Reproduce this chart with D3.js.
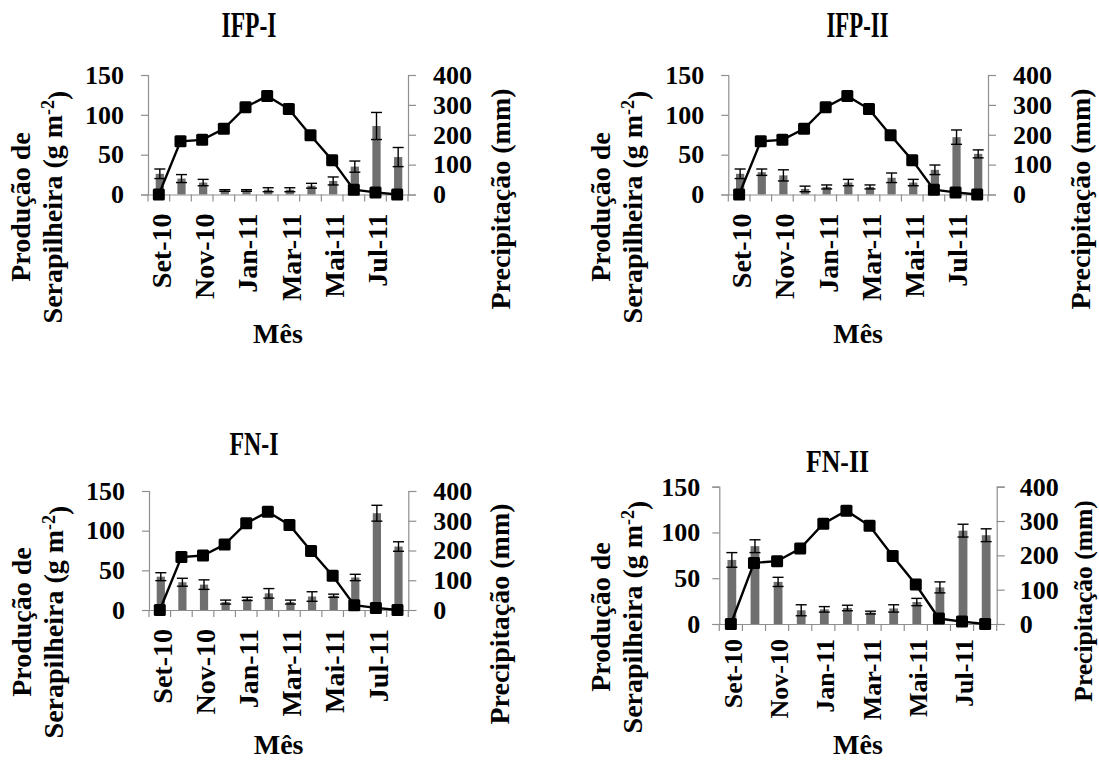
<!DOCTYPE html>
<html>
<head>
<meta charset="utf-8">
<script src="https://cdn.jsdelivr.net/npm/d3@7"></script>
<style>
  html, body { margin: 0; padding: 0; background: #fff; }
  svg { display: block; }
  text { font-family: "Liberation Serif", "Times New Roman", serif; font-weight: bold; fill: #000; }
</style>
</head>
<body>
<svg id="chart" width="1099" height="762"></svg>
<script>
// Months of the sampling year (Sep 2010 - Aug 2011)
const months = ["Set-10","Out-10","Nov-10","Dez-10","Jan-11","Fev-11","Mar-11","Abr-11","Mai-11","Jun-11","Jul-11","Ago-11"];
const monthTicks = ["Set-10","Nov-10","Jan-11","Mar-11","Mai-11","Jul-11"];
const litterTicks = [0, 50, 100, 150];
const rainTicks = [0, 100, 200, 300, 400];

// Monthly precipitation (mm), shared by every site
const rainfall = [0, 178, 183, 220, 292, 330, 286, 198, 115, 16, 7, 0];

// Litterfall (g m-2) and its error, per site
const litterIFP1 = [26, 20, 15, 5, 5, 6, 6, 11, 17, 35, 86, 47];
const errIFP1    = [6, 5, 4, 1, 1, 2.5, 2.5, 3, 5, 7, 17, 12];
const litterIFP2 = [26, 28, 24, 7, 9.5, 15, 9.5, 21, 15, 31, 72, 51];
const errIFP2    = [6, 4, 7, 3.5, 2.5, 4, 2.5, 6, 4, 6, 9, 5];
const litterFN1  = [42, 35, 32, 10, 14, 21, 10, 17, 18, 41, 122, 80];
const errFN1     = [5, 5, 6, 2.5, 2, 6, 2.5, 6, 2, 4, 10, 6];
const litterFN2  = [70, 85, 46, 15, 16, 17.5, 12.5, 17, 24, 40, 102, 97];
const errFN2     = [8, 7, 5, 6, 3, 3, 1.5, 4, 4, 6, 7, 7];

const titles = ["IFP-I", "IFP-II", "FN-I", "FN-II"];

// Panel placement on the page
const panels = [
  { name: titles[0], litter: litterIFP1, err: errIFP1,
    x0: 148, x1: 408, yTop: 75, yBot: 194.5, padL: 17, padR: 17,
    yTitleX: [30, 62], yTitleCY: 207, rTitleX: 509.5, rTitleCY: 199, rFs: 28,
    tickGap: 19, tickFs: 28, mesY: 343,
    title: { cx: 249, y: 37, w: 55, fs: 35 } },
  { name: titles[1], litter: litterIFP2, err: errIFP2,
    x0: 728.3, x1: 988, yTop: 75, yBot: 194.5, padL: 17, padR: 17,
    yTitleX: [610, 642], yTitleCY: 207, rTitleX: 1089.5, rTitleCY: 199, rFs: 28,
    tickGap: 19, tickFs: 28, mesY: 343,
    title: { cx: 857.5, y: 37, w: 62, fs: 35 } },
  { name: titles[2], litter: litterFN1, err: errFN1,
    x0: 149, x1: 408.3, yTop: 491, yBot: 610, padL: 17, padR: 17,
    yTitleX: [31, 63], yTitleCY: 622, rTitleX: 509, rTitleCY: 614, rFs: 28,
    tickGap: 19, tickFs: 28, mesY: 754,
    title: { cx: 254, y: 455, w: 49, fs: 34 } },
  { name: titles[3], litter: litterFN2, err: errFN2,
    x0: 719.3, x1: 996.7, yTop: 486.7, yBot: 624, padL: 12, padR: 15,
    yTitleX: [610, 642], yTitleCY: 617, rTitleX: 1092, rTitleCY: 601, rFs: 25.5,
    tickGap: 15, tickFs: 26, mesY: 754,
    title: { cx: 837.5, y: 472, w: 63, fs: 31 } }
];

const svg = d3.select("#chart");
const axisGrey = "#8f8f8f";
const barGrey = "#6f6f6f";

panels.forEach(p => {
  const g = svg.append("g");

  const x = d3.scaleBand().domain(months).range([p.x0, p.x1]).padding(0);
  const step = x.step();
  const yL = d3.scaleLinear().domain([0, 150]).range([p.yBot, p.yTop]);
  const yR = d3.scaleLinear().domain([0, 400]).range([p.yBot, p.yTop]);
  const cx = m => x(m) + step / 2;

  // Litterfall bars
  const barW = step * 0.38;
  g.append("g").selectAll("rect").data(months).join("rect")
    .attr("x", m => cx(m) - barW / 2 + 1)
    .attr("width", barW)
    .attr("y", (m, i) => yL(p.litter[i]))
    .attr("height", (m, i) => yL(0) - yL(p.litter[i]))
    .attr("fill", barGrey);

  // Error bars
  const capW = 5.5;
  const eb = g.append("g").attr("stroke", "#000").attr("stroke-width", 1.4);
  months.forEach((m, i) => {
    const xc = cx(m) + 1;
    const hi = yL(p.litter[i] + p.err[i]);
    const lo = yL(Math.max(0, p.litter[i] - p.err[i]));
    eb.append("line").attr("x1", xc).attr("x2", xc).attr("y1", hi).attr("y2", lo);
    eb.append("line").attr("x1", xc - capW).attr("x2", xc + capW).attr("y1", hi).attr("y2", hi);
    eb.append("line").attr("x1", xc - capW).attr("x2", xc + capW).attr("y1", lo).attr("y2", lo);
  });

  // Left axis (litterfall)
  const axL = g.append("g").attr("transform", `translate(${p.x0},0)`)
    .call(d3.axisLeft(yL).tickValues(litterTicks).tickSize(7).tickPadding(p.padL));
  // Right axis (precipitation)
  const axR = g.append("g").attr("transform", `translate(${p.x1},0)`)
    .call(d3.axisRight(yR).tickValues(rainTicks).tickSize(8).tickPadding(p.padR));
  [axL, axR].forEach(a => {
    a.select(".domain").attr("stroke", axisGrey).attr("stroke-width", 1.2);
    a.selectAll(".tick line").attr("stroke", axisGrey).attr("stroke-width", 1.2);
    a.selectAll(".tick text").attr("font-size", 26)
      .attr("font-family", "Liberation Serif, Times New Roman, serif")
      .attr("font-weight", "bold").attr("fill", "#000");
  });

  // Bottom axis with ticks at month boundaries
  const axB = g.append("g").attr("transform", `translate(0,${p.yBot})`)
    .call(d3.axisBottom(x).tickSize(0).tickFormat(""));
  axB.select(".domain").attr("stroke", axisGrey).attr("stroke-width", 1.2);
  const bounds = months.map(m => x(m)).concat([p.x1]);
  axB.selectAll("line.bound").data(bounds).join("line").attr("class", "bound")
    .attr("x1", d => d).attr("x2", d => d).attr("y1", 0).attr("y2", 7)
    .attr("stroke", axisGrey).attr("stroke-width", 1.2);

  // Rotated month labels
  g.append("g").selectAll("text").data(monthTicks).join("text")
    .attr("transform", m => `translate(${cx(m) + 2},${p.yBot + p.tickGap}) rotate(-90)`)
    .attr("text-anchor", "end")
    .attr("dy", "0.35em")
    .attr("font-size", p.tickFs)
    .text(m => m);

  // Precipitation line and markers
  const line = d3.line().x((d, i) => cx(months[i])).y(d => yR(d));
  g.append("path").datum(rainfall)
    .attr("d", line).attr("fill", "none").attr("stroke", "#000").attr("stroke-width", 2.4);
  const ms = 12;
  g.append("g").selectAll("rect").data(rainfall).join("rect")
    .attr("x", (d, i) => cx(months[i]) - ms / 2)
    .attr("y", d => yR(d) - ms / 2)
    .attr("width", ms).attr("height", ms).attr("rx", 1.5)
    .attr("fill", "#000");

  // Panel title
  g.append("text")
    .attr("x", p.title.cx).attr("y", p.title.y)
    .attr("text-anchor", "middle")
    .attr("font-size", p.title.fs)
    .attr("textLength", p.title.w).attr("lengthAdjust", "spacingAndGlyphs")
    .text(p.name);

  // X axis title
  g.append("text")
    .attr("x", (p.x0 + p.x1) / 2).attr("y", p.mesY)
    .attr("text-anchor", "middle").attr("font-size", 28)
    .text("Mês");

  // Left axis title (two lines)
  g.append("text")
    .attr("transform", `translate(${p.yTitleX[0]},${p.yTitleCY}) rotate(-90)`)
    .attr("text-anchor", "middle").attr("font-size", 28)
    .text("Produção de");
  const t2 = g.append("text")
    .attr("transform", `translate(${p.yTitleX[1]},${p.yTitleCY}) rotate(-90)`)
    .attr("text-anchor", "middle").attr("font-size", 28);
  t2.append("tspan").text("Serapilheira (g m");
  t2.append("tspan").attr("dy", "-0.45em").attr("font-size", 18).text("-2");
  t2.append("tspan").attr("dy", "0.45em").text(")");

  // Right axis title
  g.append("text")
    .attr("transform", `translate(${p.rTitleX},${p.rTitleCY}) rotate(-90)`)
    .attr("text-anchor", "middle").attr("font-size", p.rFs)
    .text("Precipitação (mm)");
});
</script>
</body>
</html>
